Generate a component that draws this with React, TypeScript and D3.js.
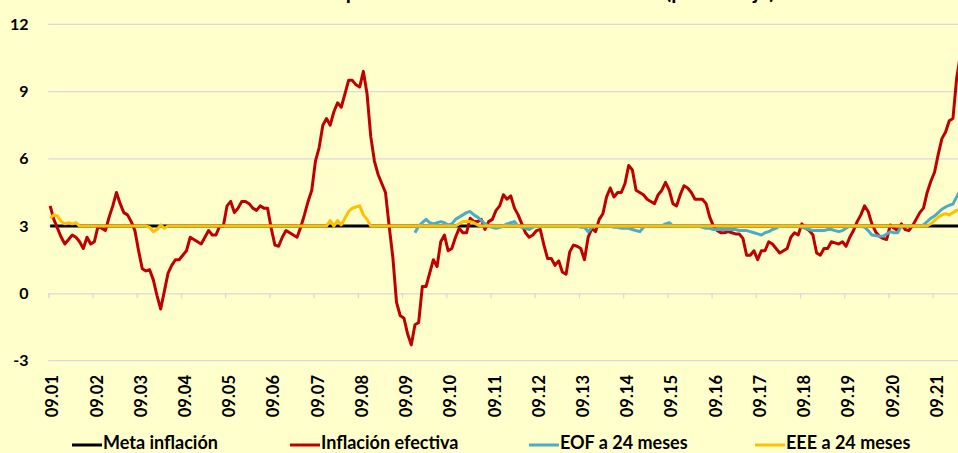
import React, { useEffect, useRef } from "react";
import * as d3 from "d3";

const WIDTH = 958;
const HEIGHT = 453;

// monthly, starting Sep 2001 (one row = 12 months)
const inflacionEfectiva = [
  3.9, 3.3, 2.9, 2.5, 2.2, 2.4, 2.6, 2.5, 2.3, 2.0, 2.5, 2.2,
  2.3, 3.0, 2.9, 2.8, 3.4, 3.9, 4.5, 4.0, 3.6, 3.5, 3.2, 2.8,
  1.9, 1.1, 1.0, 1.05, 0.6, -0.1, -0.7, 0.1, 0.9, 1.25, 1.5, 1.5,
  1.7, 1.9, 2.5, 2.4, 2.3, 2.2, 2.5, 2.8, 2.6, 2.6, 3.0, 3.0,
  3.9, 4.1, 3.6, 3.8, 4.1, 4.1, 4.0, 3.8, 3.7, 3.9, 3.8, 3.8,
  2.9, 2.15, 2.1, 2.5, 2.8, 2.7, 2.6, 2.5, 2.95, 3.5, 4.1, 4.6,
  5.9, 6.5, 7.5, 7.8, 7.5, 8.1, 8.5, 8.3, 8.9, 9.5, 9.5, 9.3,
  9.2, 9.9, 8.9, 7.0, 5.9, 5.3, 4.9, 4.5, 3.0, 1.6, -0.4, -1.0,
  -1.1, -1.8, -2.3, -1.4, -1.3, 0.3, 0.3, 0.9, 1.5, 1.2, 2.3, 2.6,
  1.9, 2.0, 2.5, 2.9, 2.7, 2.7, 3.35, 3.2, 3.2, 3.3, 2.85, 3.2,
  3.3, 3.7, 3.9, 4.4, 4.2, 4.35, 3.8, 3.5, 3.1, 2.7, 2.5, 2.6,
  2.8, 2.85, 2.15, 1.55, 1.55, 1.25, 1.45, 0.95, 0.85, 1.85, 2.15, 2.1,
  2.0, 1.5, 2.5, 2.9, 2.75, 3.3, 3.55, 4.3, 4.7, 4.3, 4.5, 4.5,
  4.9, 5.7, 5.5, 4.6, 4.5, 4.4, 4.2, 4.1, 4.0, 4.4, 4.6, 4.95,
  4.6, 4.0, 3.9, 4.4, 4.8, 4.7, 4.5, 4.2, 4.2, 4.2, 4.0, 3.4,
  3.0, 2.8, 2.7, 2.7, 2.75, 2.7, 2.65, 2.65, 2.45, 1.7, 1.7, 1.9,
  1.5, 1.9, 1.9, 2.3, 2.2, 2.0, 1.8, 1.9, 2.0, 2.5, 2.7, 2.6,
  3.1, 2.9, 2.8, 2.6, 1.8, 1.7, 2.0, 2.0, 2.3, 2.25, 2.2, 2.3,
  2.1, 2.5, 2.8, 3.2, 3.5, 3.9, 3.65, 3.1, 2.75, 2.55, 2.45, 2.4,
  3.05, 2.9, 2.8, 3.1, 2.85, 2.8, 3.0, 3.3, 3.6, 3.8, 4.5, 5.0,
  5.4, 6.2, 6.9, 7.2, 7.7, 7.8, 9.6, 10.6, 11.5,
];

const eee24 = [
  3.35, 3.5, 3.45, 3.2, 3.1, 3.15, 3.1, 3.15, 3.0, 3.0, 3.0, 3.0,
  3, 3, 3, 3, 3, 3, 3, 3, 3, 3, 3, 3,
  3, 3, 3, 2.95, 2.75, 2.85, 3.05, 2.9, 3, 3, 3, 3,
  3, 3, 3, 3, 3, 3, 3, 3, 3, 3, 3, 3,
  3, 3, 3, 3, 3, 3, 3, 3, 3, 3, 3, 3,
  3, 3, 3, 3, 3, 3, 3, 3, 3, 3, 3, 3,
  3, 3, 3, 3, 3.25, 3.0, 3.25, 3.05, 3.35, 3.65, 3.8, 3.85,
  3.9, 3.5, 3.3, 3.0, 3, 3, 3, 3, 3, 3, 3, 3,
  3, 3, 3, 3, 3, 3, 3, 3, 3, 3, 3, 3,
  3, 3, 3, 3.1, 3.2, 3.2, 3.2, 3.15, 3.05, 3, 3, 3,
  3, 3, 3, 3, 3, 3, 3, 3, 3, 3, 3, 3,
  3, 3, 3, 3, 3, 3, 3, 3, 3, 3, 3, 3,
  3, 3, 3, 3, 3, 3, 3, 3, 3, 3, 3, 3,
  3, 3, 3, 3, 3, 3, 3, 3, 3, 3, 3, 3,
  3, 3, 3, 3, 3, 3, 3, 3, 3, 3, 3, 3,
  3, 3, 3, 3, 3, 3, 3, 3, 3, 3, 3, 3,
  3, 3, 3, 3, 3, 3, 3, 3, 3, 3, 3, 3,
  3, 3, 3, 3, 3, 3, 3, 3, 3, 3, 3, 3,
  3, 3, 3, 3, 3, 3, 3, 3, 3, 3, 3, 3,
  3, 3, 3, 3, 3, 3, 3, 3, 3, 3, 3, 3.1,
  3.25, 3.4, 3.5, 3.55, 3.5, 3.6, 3.7, 3.75, 3.8,
];

// EOF survey starts later (month index 99 = Dec 2009)
const eofStart = 99;
const eof24 = [
  2.7, 3.0, 3.15, 3.3, 3.15, 3.1, 3.15, 3.2, 3.15, 3.05, 3.1, 3.3, 3.4,
  3.5, 3.6, 3.65, 3.5, 3.4, 3.25, 3.1, 3.0, 2.95, 2.9, 2.95, 3.0,
  3.1, 3.15, 3.2, 3.0, 2.95, 2.9, 2.85, 2.95, 3.0, 3.0, 3.0, 3.0,
  3.0, 3.0, 3.0, 3.0, 3.0, 3.0, 3.0, 3.0, 2.95, 2.95, 2.75, 2.95,
  3.0, 3.0, 3.0, 3.0, 3.0, 2.95, 2.95, 2.9, 2.9, 2.9, 2.85, 2.8,
  2.75, 2.95, 3.0, 3.0, 3.0, 3.0, 3.0, 3.1, 3.15, 3.0, 3.0, 3.0,
  3.0, 3.0, 3.0, 3.0, 3.0, 2.95, 2.9, 2.9, 2.85, 2.85, 2.85, 2.85,
  2.85, 2.85, 2.85, 2.8, 2.8, 2.8, 2.75, 2.7, 2.65, 2.6, 2.7, 2.75,
  2.85, 2.9, 3.0, 3.0, 3.0, 3.0, 3.0, 3.0, 2.95, 2.9, 2.85, 2.8,
  2.8, 2.8, 2.8, 2.85, 2.85, 2.8, 2.75, 2.8, 2.9, 3.0, 3.0, 3.0,
  3.0, 2.95, 2.8, 2.6, 2.58, 2.55, 2.55, 2.65, 2.75, 2.7, 2.7, 3.0,
  3.0, 3.0, 3.0, 3.0, 3.0, 3.05, 3.2, 3.35, 3.45, 3.6, 3.75, 3.85,
  3.93, 3.98, 4.3, 4.6,
];

const metaInflacion = 3;

const yearLabels = [
  "09.01", "09.02", "09.03", "09.04", "09.05", "09.06", "09.07",
  "09.08", "09.09", "09.10", "09.11", "09.12", "09.13", "09.14",
  "09.15", "09.16", "09.17", "09.18", "09.19", "09.20", "09.21",
];

const yTicks = [-3, 0, 3, 6, 9, 12];

const seriesNames = ["Meta inflación", "Inflación efectiva", "EOF a 24 meses", "EEE a 24 meses"];

const colors: Record<string, string> = {
  "Meta inflación": "#000000",
  "Inflación efectiva": "#C00000",
  "EOF a 24 meses": "#4BACC6",
  "EEE a 24 meses": "#FFC000",
};

const FONT = "Lato, 'Open Sans', sans-serif";

export default function App() {
  const ref = useRef<SVGSVGElement>(null);

  useEffect(() => {
    const svg = d3.select(ref.current);
    svg.selectAll("*").remove();

    const nCat = 252;
    const left = 48.3;
    const step = 3.685;
    const x = d3
      .scaleBand<number>()
      .domain(d3.range(nCat))
      .range([left, left + step * nCat]);
    const cx = (i: number) => (x(i) ?? 0) + x.bandwidth() / 2;
    const xEdge = d3.scaleLinear().domain([0, nCat]).range([left, left + step * nCat]);
    const y = d3.scaleLinear().domain([-3, 12]).range([360.6, 24.3]);

    svg.append("rect").attr("width", WIDTH).attr("height", HEIGHT).attr("fill", "#FFFFCC");

    // title: sits above the frame, only its descenders peek in (as in the source)
    svg
      .append("text")
      .attr("x", 323)
      .attr("y", -1.5)
      .style("font-family", FONT)
      .style("font-weight", 700)
      .style("font-size", "20.8px")
      .text("Expectativas de inflación a 24 meses (porcentaje)");

    // gridlines
    svg
      .append("g")
      .selectAll("line")
      .data(yTicks.filter((d) => d !== 0))
      .join("line")
      .attr("x1", left)
      .attr("x2", WIDTH)
      .attr("y1", (d) => y(d))
      .attr("y2", (d) => y(d))
      .attr("stroke", "#D9D9D9")
      .attr("stroke-width", 1.3);

    // y labels
    svg
      .append("g")
      .selectAll("text")
      .data(yTicks)
      .join("text")
      .attr("x", 28.5)
      .attr("y", (d) => y(d))
      .attr("dy", "0.35em")
      .attr("text-anchor", "end")
      .style("font-family", FONT)
      .style("font-weight", 700)
      .style("font-size", "16px")
      .text((d) => String(d));

    // category axis at 0
    const axis = svg
      .append("g")
      .attr("transform", `translate(0,${y(0)})`)
      .call(
        d3
          .axisBottom(xEdge)
          .tickValues(d3.range(0, nCat + 1, 12))
          .tickSize(5)
          .tickSizeOuter(0)
          .tickFormat(() => "")
      );
    axis.selectAll("path, line").attr("stroke", "#D9D9D9").attr("stroke-width", 1.3);

    // rotated year labels
    svg
      .append("g")
      .selectAll("text")
      .data(yearLabels)
      .join("text")
      .attr("transform", (d, k) => `translate(${cx(k * 12) + 2.4},375) rotate(-90)`)
      .attr("dy", "0.35em")
      .attr("text-anchor", "end")
      .style("font-family", FONT)
      .style("font-weight", 700)
      .style("font-size", "16.5px")
      .text((d) => d);

    const lineOf = (offset: number) =>
      d3
        .line<number>()
        .x((d, i) => cx(i + offset))
        .y((d) => y(d));

    // meta
    svg
      .append("path")
      .datum([0, inflacionEfectiva.length - 1])
      .attr(
        "d",
        d3
          .line<number>()
          .x((d) => cx(d))
          .y(() => y(metaInflacion))
      )
      .attr("fill", "none")
      .attr("stroke", colors["Meta inflación"])
      .attr("stroke-width", 3);

    svg
      .append("path")
      .datum(inflacionEfectiva)
      .attr("d", lineOf(0))
      .attr("fill", "none")
      .attr("stroke", colors["Inflación efectiva"])
      .attr("stroke-width", 3)
      .attr("stroke-linejoin", "round");

    svg
      .append("path")
      .datum(eof24)
      .attr("d", lineOf(eofStart))
      .attr("fill", "none")
      .attr("stroke", colors["EOF a 24 meses"])
      .attr("stroke-width", 3)
      .attr("stroke-linejoin", "round");

    svg
      .append("path")
      .datum(eee24)
      .attr("d", lineOf(0))
      .attr("fill", "none")
      .attr("stroke", colors["EEE a 24 meses"])
      .attr("stroke-width", 3)
      .attr("stroke-linejoin", "round");

    // legend (kept just inside the bottom edge)
    const legendX = [72, 290, 529, 755];
    const legend = svg
      .append("g")
      .selectAll("g")
      .data(seriesNames)
      .join("g")
      .attr("transform", (d, i) => `translate(${legendX[i]},445)`);
    legend
      .append("line")
      .attr("x1", 0)
      .attr("x2", 30)
      .attr("stroke", (d) => colors[d])
      .attr("stroke-width", 3);
    legend
      .append("text")
      .attr("x", 31)
      .attr("y", 4)
      .style("font-family", FONT)
      .style("font-weight", 700)
      .style("font-size", "18px")
      .text((d) => d);
  }, []);

  return (
    <svg
      ref={ref}
      width={WIDTH}
      height={HEIGHT}
      style={{ position: "absolute", left: 0, top: 0, display: "block" }}
    />
  );
}
